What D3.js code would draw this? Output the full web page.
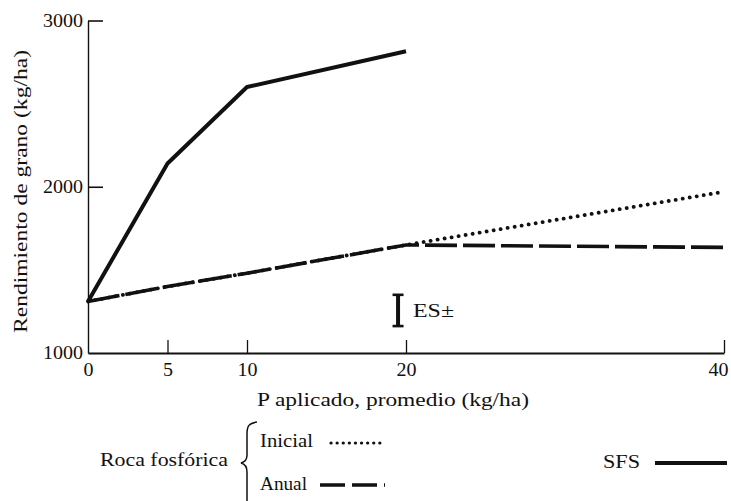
<!DOCTYPE html>
<html>
<head>
<meta charset="utf-8">
<script src="https://cdn.jsdelivr.net/npm/d3@7"></script>
<style>
  html, body { margin: 0; padding: 0; background: #fff; }
  svg { display: block; }
  svg text { font-family: "Liberation Serif", "Tinos", "Times New Roman", "DejaVu Serif", "Noto Serif", serif; fill: #111; }
</style>
</head>
<body>
<svg id="chart" width="731" height="501"></svg>
<script>
// P applied (kg/ha) and grain yield (kg/ha) for each phosphorus source
const pApplied = [0, 5, 10, 20, 40];
const sfsYield = [1310, 2140, 2600, 2815];          // single superphosphate, 0–20
const rocaInicial = [1310, 1400, 1480, 1650, 1970]; // rock phosphate, initial application
const rocaAnual = [1310, 1400, 1480, 1650, 1635];   // rock phosphate, annual application
const xTicks = [0, 5, 10, 20, 40];
const yTicks = [1000, 2000, 3000];
// standard error bar
const esX = 19.5, esCenter = 1256, esHalf = 94;

const FONT = '"Liberation Serif", "Tinos", "Times New Roman", "DejaVu Serif", serif';
const INK = "#111";
const FS = 18;

const svg = d3.select("#chart");
const x = d3.scaleLinear().domain([0, 40]).range([88, 724]);
const y = d3.scaleLinear().domain([1000, 3000]).range([353, 20.5]);

// y axis: ticks point into the plot
const yAxis = d3.axisLeft(y).tickValues(yTicks).tickSize(-15).tickSizeOuter(0).tickPadding(5)
  .tickFormat(d3.format("d"));
const gy = svg.append("g").attr("transform", `translate(${x(0)},0)`).call(yAxis)
  .attr("font-family", FONT);
gy.select(".domain").attr("stroke", INK).attr("stroke-width", 1.4);
gy.selectAll(".tick line").attr("stroke", INK).attr("stroke-width", 1.6)
  .attr("opacity", d => d === 1000 ? 0 : 1);
gy.selectAll(".tick text").attr("font-size", FS).attr("fill", INK)
  .attr("textLength", 40).attr("lengthAdjust", "spacingAndGlyphs");

// x axis
const xAxis = d3.axisBottom(x).tickValues(xTicks).tickSize(-13).tickSizeOuter(0).tickPadding(10);
const gx = svg.append("g").attr("transform", `translate(0,${y(1000)})`).call(xAxis)
  .attr("font-family", FONT);
gx.select(".domain").attr("stroke", INK).attr("stroke-width", 2.2);
gx.selectAll(".tick line").attr("stroke", INK).attr("stroke-width", 1.3)
  .attr("opacity", d => d === 0 ? 0 : 1);
gx.selectAll(".tick text").attr("font-size", FS).attr("fill", INK)
  .attr("textLength", d => d < 10 ? 10 : 20).attr("lengthAdjust", "spacingAndGlyphs")
  .attr("dx", d => d === 40 ? -6 : 0);

// text helper: serif label stretched to its set width
function label(g, txt, xPos, yPos, len, size = FS) {
  return g.append("text").attr("x", xPos).attr("y", yPos)
    .attr("font-size", size).attr("textLength", len).attr("lengthAdjust", "spacingAndGlyphs")
    .text(txt);
}

// axis titles
svg.append("text")
  .attr("transform", `translate(27,${(50 + 333) / 2}) rotate(-90)`)
  .attr("text-anchor", "middle").attr("font-size", FS)
  .attr("textLength", 283).attr("lengthAdjust", "spacingAndGlyphs")
  .text("Rendimiento de grano (kg/ha)");
label(svg, "P aplicado, promedio (kg/ha)", 257, 406, 272);

// series lines
const line = d3.line().x(d => x(d[0])).y(d => y(d[1]));
const sfsPts = sfsYield.map((v, i) => [pApplied[i], v]);
const iniPts = rocaInicial.map((v, i) => [pApplied[i], v]);
const anuPts = rocaAnual.map((v, i) => [pApplied[i], v]);

svg.append("path").datum(anuPts).attr("d", line)
  .attr("fill", "none").attr("stroke", INK).attr("stroke-width", 3.6)
  .attr("stroke-dasharray", "32,6");
svg.append("path").datum(iniPts).attr("d", line)
  .attr("fill", "none").attr("stroke", INK).attr("stroke-width", 3.8)
  .attr("stroke-linecap", "round").attr("stroke-dasharray", "0.1,7");
svg.append("path").datum(sfsPts).attr("d", line)
  .attr("fill", "none").attr("stroke", INK).attr("stroke-width", 4)
  .attr("stroke-linejoin", "round");

// standard error bar
const es = svg.append("g");
es.append("line").attr("x1", x(esX)).attr("x2", x(esX))
  .attr("y1", y(esCenter + esHalf)).attr("y2", y(esCenter - esHalf))
  .attr("stroke", INK).attr("stroke-width", 4);
[esCenter + esHalf, esCenter - esHalf].forEach(v => {
  es.append("line").attr("x1", x(esX) - 5.5).attr("x2", x(esX) + 5.5)
    .attr("y1", y(v)).attr("y2", y(v)).attr("stroke", INK).attr("stroke-width", 2.6);
});
label(es, "ES±", 413, 317, 41);

// legend
const lg = svg.append("g");
label(lg, "Roca fosfórica", 100, 466, 128);
lg.append("path")
  .attr("d", "M257,422 C249,423 247,426 247,434 L247,455 C247,460 245,462 241,463 C245,464 247,467 247,472 L247,505")
  .attr("fill", "none").attr("stroke", INK).attr("stroke-width", 1.5);
label(lg, "Inicial", 260, 447, 53);
lg.append("line").attr("x1", 331).attr("x2", 385).attr("y1", 443).attr("y2", 443)
  .attr("stroke", INK).attr("stroke-width", 3.2).attr("stroke-linecap", "round")
  .attr("stroke-dasharray", "0.1,6");
label(lg, "Anual", 260, 490, 47);
lg.append("line").attr("x1", 320).attr("x2", 385).attr("y1", 485).attr("y2", 485)
  .attr("stroke", INK).attr("stroke-width", 3.6).attr("stroke-dasharray", "25,7");
label(lg, "SFS", 603, 468, 37);
lg.append("line").attr("x1", 655).attr("x2", 727).attr("y1", 463).attr("y2", 463)
  .attr("stroke", INK).attr("stroke-width", 4);
</script>
</body>
</html>
